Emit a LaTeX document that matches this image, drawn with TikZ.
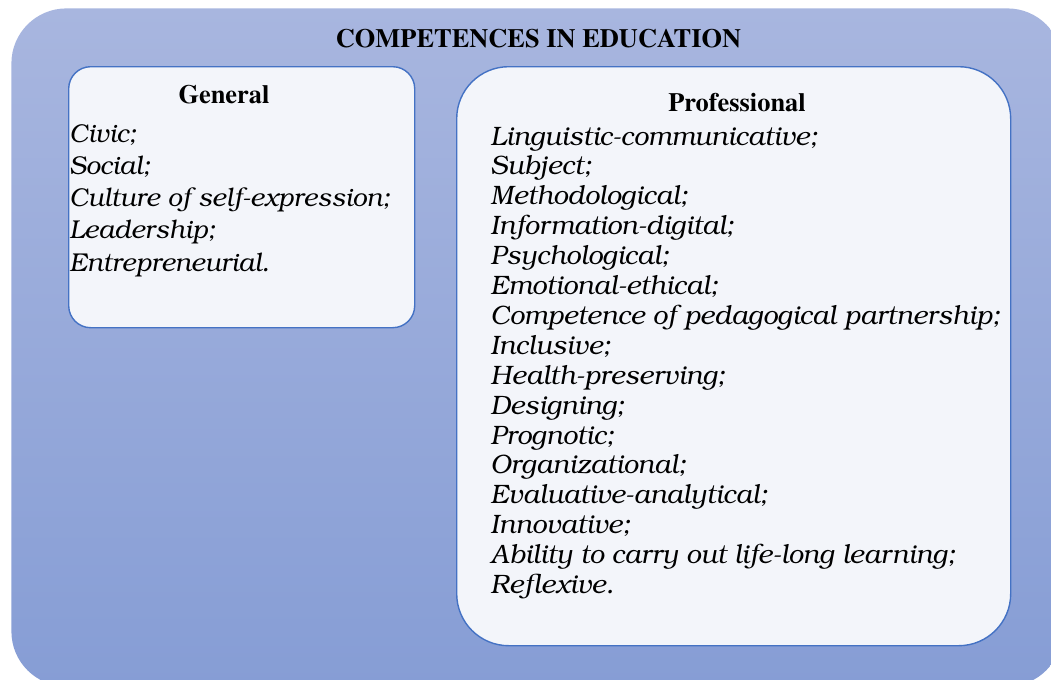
\documentclass[tikz,border=0pt]{standalone}
\usepackage[T1]{fontenc}
\usepackage{tikz}
\usetikzlibrary{positioning}

\definecolor{frametop}{HTML}{A8B6DF}
\definecolor{framebottom}{HTML}{869DD5}
\definecolor{panelfill}{HTML}{F3F5FA}
\definecolor{panelline}{HTML}{4472C4}

\newcommand{\headfont}{\fontfamily{ptm}\bfseries\fontsize{13.2}{15}\selectfont}
\newcommand{\genfont}{\fontfamily{pbk}\itshape\fontsize{12.9}{15.75}\selectfont}
\newcommand{\proffont}{\fontfamily{pbk}\itshape\fontsize{13.3}{14.55}\selectfont}

\tikzstyle{frame} = [rectangle, rounded corners=27.5pt, draw=none, top color=frametop, bottom color=framebottom, anchor=north west, inner sep=0pt]
\tikzstyle{panel} = [rectangle, draw=panelline, line width=0.7pt, fill=panelfill, anchor=north west, inner sep=0pt]
\tikzstyle{heading} = [font=\headfont, inner sep=0pt, anchor=base]
\tikzstyle{genitem} = [font=\genfont, inner sep=0pt, text height=11.5pt, text depth=4.25pt, anchor=north west]
\tikzstyle{profitem} = [font=\proffont, inner sep=0pt, text height=10.6pt, text depth=3.95pt, anchor=north west]

\begin{document}
\begin{tikzpicture}[x=0.5pt, y=-0.5pt]

\useasboundingbox (0,0) rectangle (1051,680);

\node (outer) [frame, minimum width=525.5pt, minimum height=339pt] at (11,8) {};
\node (genbox) [panel, rounded corners=11pt, minimum width=173pt, minimum height=130.5pt] at (68,66) {};
\node (profbox) [panel, rounded corners=26pt, minimum width=277pt, minimum height=289.5pt] at (456,66) {};

\node (title) [heading] at (538.5,47) {COMPETENCES IN EDUCATION};
\node (gentitle) [heading] at (224,104) {General};
\node (proftitle) [heading] at (737,111) {Professional};

% general competences
\node (g1) [genitem, anchor=base west] at (69,142) {Civic;};
\node (g2) [genitem] at (g1.south west) {Social;};
\node (g3) [genitem] at (g2.south west) {Culture of self-expression;};
\node (g4) [genitem] at (g3.south west) {Leadership;};
\node (g5) [genitem] at (g4.south west) {Entrepreneurial.};

% professional competences
\node (p1) [profitem, anchor=base west] at (490,145) {Linguistic-communicative;};
\node (p2) [profitem] at (p1.south west) {Subject;};
\node (p3) [profitem] at (p2.south west) {Methodological;};
\node (p4) [profitem] at (p3.south west) {Information-digital;};
\node (p5) [profitem] at (p4.south west) {Psychological;};
\node (p6) [profitem] at (p5.south west) {Emotional-ethical;};
\node (p7) [profitem] at (p6.south west) {Competence of pedagogical partnership;};
\node (p8) [profitem] at (p7.south west) {Inclusive;};
\node (p9) [profitem] at (p8.south west) {Health-preserving;};
\node (p10) [profitem] at (p9.south west) {Designing;};
\node (p11) [profitem] at (p10.south west) {Prognotic;};
\node (p12) [profitem] at (p11.south west) {Organizational;};
\node (p13) [profitem] at (p12.south west) {Evaluative-analytical;};
\node (p14) [profitem] at (p13.south west) {Innovative;};
\node (p15) [profitem] at (p14.south west) {Ability to carry out life-long learning;};
\node (p16) [profitem] at (p15.south west) {Reflexive.};

\end{tikzpicture}
\end{document}
